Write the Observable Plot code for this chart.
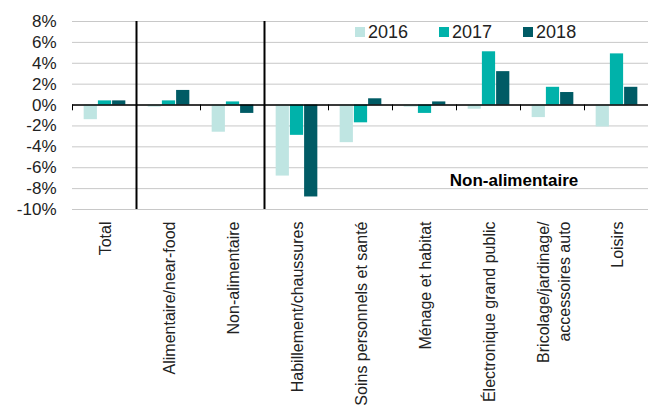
<!DOCTYPE html>
<html>
<head>
<meta charset="utf-8">
<script src="https://cdn.jsdelivr.net/npm/d3@7"></script>
<script src="https://cdn.jsdelivr.net/npm/@observablehq/plot@0.6"></script>
<style>
  body { margin: 0; background: #fff; }
  #chart { position: relative; width: 651px; height: 405px; font-family: "Liberation Sans", Arial, sans-serif; color: #222; }
  #legend { position: absolute; left: 355px; top: 22px; display: flex; font-size: 18px; line-height: 20px; }
  #legend .item { display: flex; align-items: center; margin-right: 31px; }
  #legend .sw { width: 10px; height: 10px; margin-right: 3px; }
</style>
</head>
<body>
<div id="chart"></div>
<script>
const categories = [
  "Total",
  "Alimentaire/near-food",
  "Non-alimentaire",
  "Habillement/chaussures",
  "Soins personnels et santé",
  "Ménage et habitat",
  "Électronique grand public",
  "Bricolage/jardinage/\naccessoires auto",
  "Loisirs"
];
const years = [2016, 2017, 2018];
const values2016 = [-1.4, -0.2, -2.6, -6.8, -3.6, -0.2, -0.4, -1.2, -2.1];
const values2017 = [0.4, 0.4, 0.3, -2.9, -1.7, -0.8, 5.1, 1.7, 4.9];
const values2018 = [0.4, 1.4, -0.8, -8.8, 0.6, 0.3, 3.2, 1.2, 1.7];
const colors = ["#bfe5e2", "#00b2aa", "#005b65"];
const yTicks = [-10, -8, -6, -4, -2, 0, 2, 4, 6, 8];
const separatorsBefore = [categories[1], categories[3]];
const groupLabels = [{category: categories[6], label: "Non-alimentaire", value: -7.2}];

const series = [values2016, values2017, values2018];
const rows = [];
categories.forEach((c, i) => years.forEach((yr, k) => rows.push({category: c, year: yr, value: series[k][i]})));

const xDomain = [years[0] - 0.75, years[years.length - 1] + 1.75];
const yDomain = [yTicks[0], yTicks[yTicks.length - 1]];

const plot = Plot.plot({
  width: 651,
  height: 405,
  marginLeft: 69,
  marginRight: 0,
  marginTop: 21,
  marginBottom: 196,
  style: {fontFamily: "Liberation Sans, Arial, sans-serif", fontSize: "16px", background: "white", color: "#222", overflow: "visible"},
  fx: {domain: categories, padding: 0, label: null},
  x: {domain: xDomain, axis: null},
  y: {domain: yDomain, axis: null},
  color: {type: "ordinal", domain: years, range: colors},
  marks: [
    Plot.ruleY(yTicks, {stroke: "#c8c8c8", strokeWidth: 1}),
    Plot.rectY(rows, {fx: "category", x: "year", interval: 1, y: "value", fill: "year"}),
    Plot.ruleY([0], {stroke: "black", strokeWidth: 1.5}),
    Plot.ruleX([xDomain[0]], {y1: 0, y2: -0.55, stroke: "black", strokeWidth: 1}),
    Plot.ruleX(separatorsBefore, {fx: d => d, x: xDomain[0], y1: yDomain[1], y2: yDomain[0], stroke: "black", strokeWidth: 2}),
    Plot.text(groupLabels, {fx: "category", x: xDomain[1], y: "value", dx: -6.5, text: "label", fontWeight: "bold", fontSize: 17, fill: "black", textAnchor: "middle"}),
    Plot.axisY(yTicks, {anchor: "left", tickSize: 0, tickPadding: 16, tickFormat: d => d + "%", fontSize: 17, label: null}),
    Plot.axisFx({anchor: "bottom", tickRotate: -90, tickSize: 0, tickPadding: 12, fontSize: 16, label: null, lineHeight: 1.3})
  ]
});

const chart = document.getElementById("chart");
chart.appendChild(plot);

const legend = document.createElement("div");
legend.id = "legend";
years.forEach((yr, k) => {
  const item = document.createElement("div");
  item.className = "item";
  const sw = document.createElement("span");
  sw.className = "sw";
  sw.style.background = colors[k];
  const label = document.createElement("span");
  label.textContent = String(yr);
  item.appendChild(sw);
  item.appendChild(label);
  legend.appendChild(item);
});
chart.appendChild(legend);
</script>
</body>
</html>
